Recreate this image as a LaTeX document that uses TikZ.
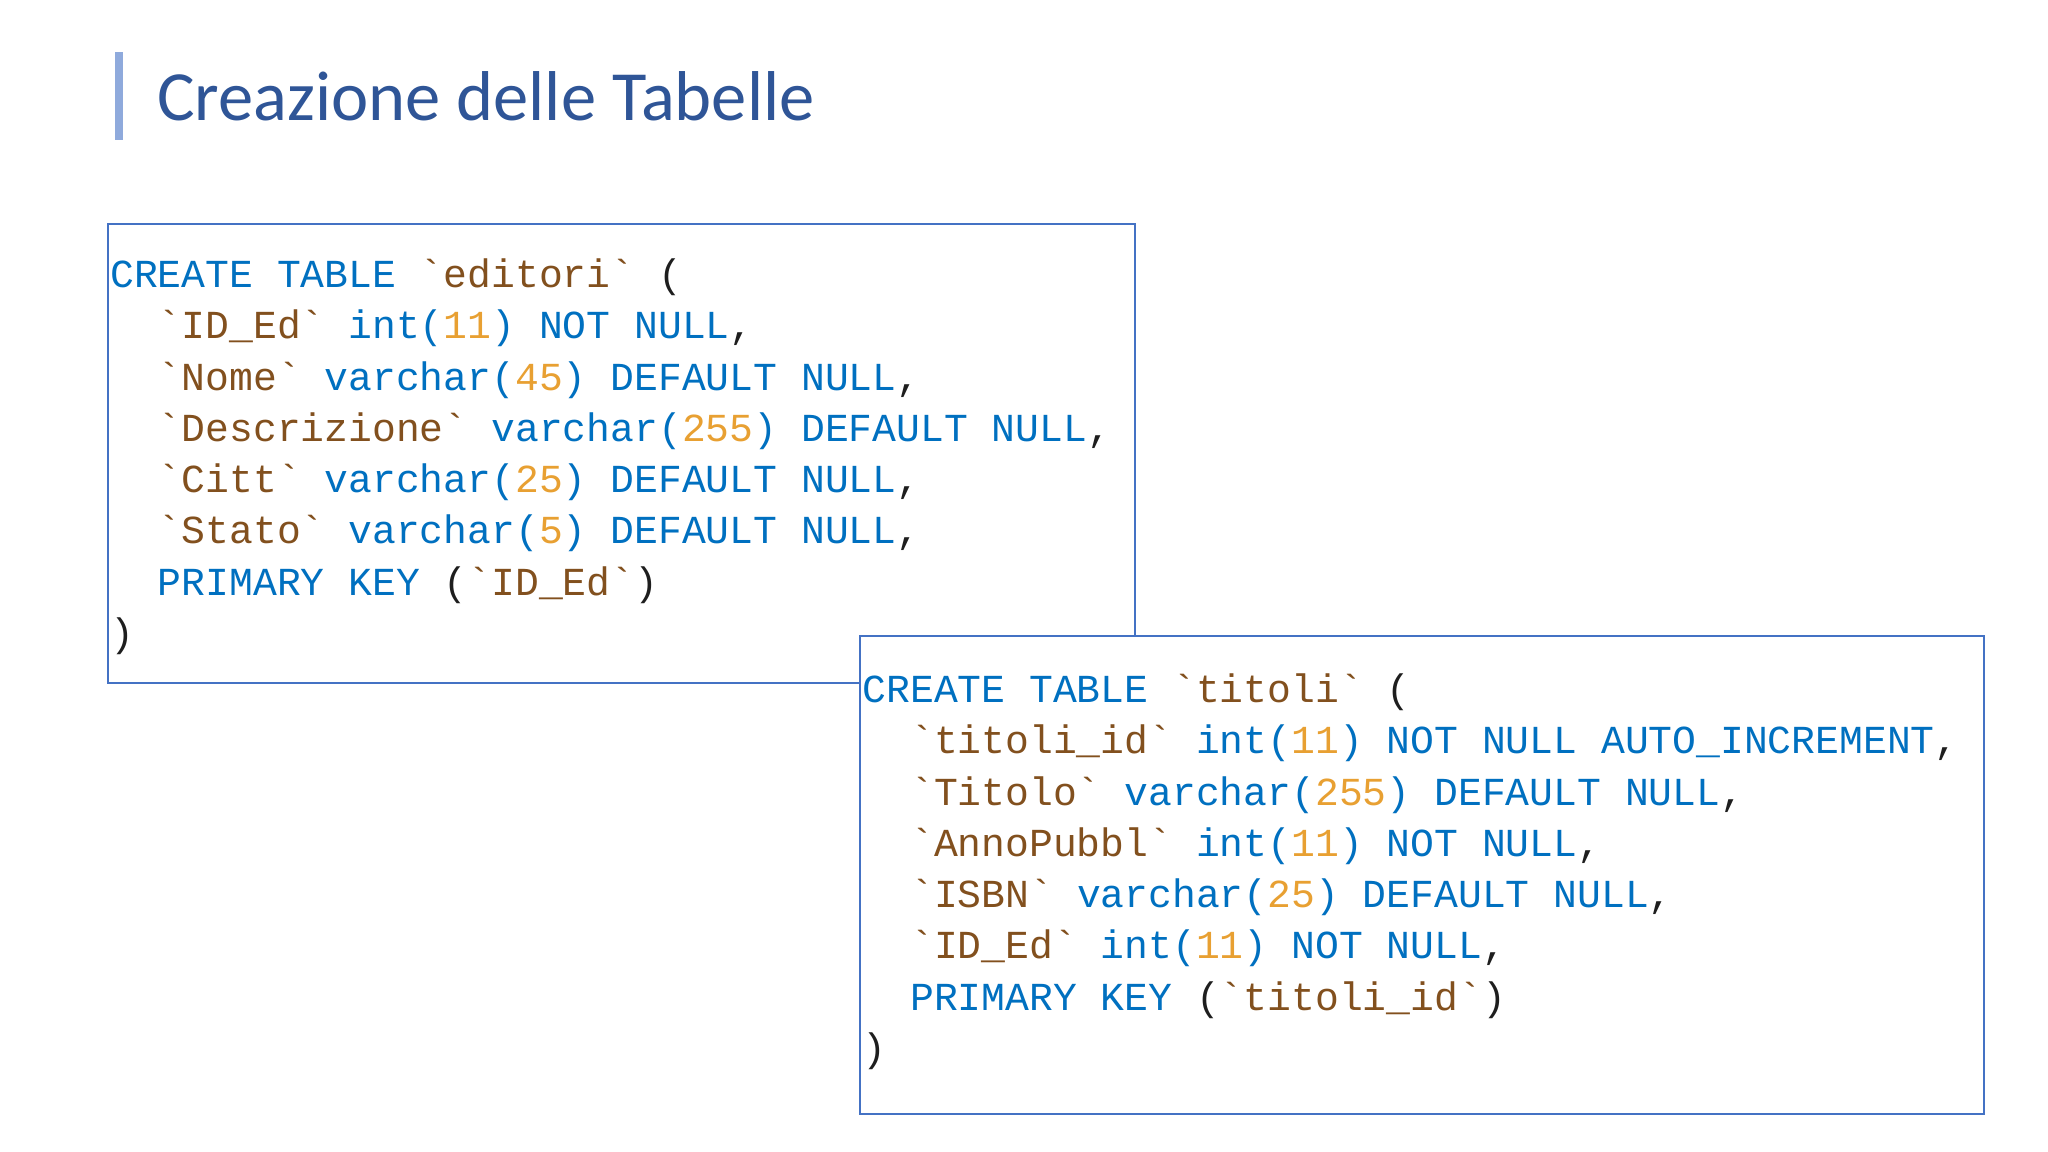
\documentclass[tikz,border=0pt]{standalone}
\usepackage{fontspec}
\setmainfont{Carlito}
\newfontfamily\code{Liberation Mono}
\definecolor{kw}{RGB}{0,112,192}
\definecolor{st}{RGB}{130,80,30}
\definecolor{nm}{RGB}{232,160,50}
\definecolor{dk}{RGB}{30,30,30}
\definecolor{ttl}{RGB}{47,85,151}
\definecolor{bar}{RGB}{143,170,220}
\definecolor{bx}{RGB}{68,114,196}
\newcommand{\Kw}[1]{\textcolor{kw}{#1}}
\newcommand{\St}[1]{\textcolor{st}{\char96#1\char96}}
\newcommand{\Nm}[1]{\textcolor{nm}{#1}}
\begin{document}
\begin{tikzpicture}[x=0.5pt,y=-0.5pt,
  codeline/.style={anchor=base west,inner sep=0pt,font=\code\fontsize{15.2}{18}\selectfont,text=dk},
  panel/.style={draw=bx,line width=0.7pt,fill=white}]
\useasboundingbox (0,0) rectangle (1568,882);
\fill[white] (0,0) rectangle (1568,882);
\fill[bar] (88,40) rectangle (94,107);
\node[anchor=base west,inner sep=0pt,font=\fontsize{27}{30}\selectfont,text=ttl] (title) at (120,92) {Creazione delle Tabelle};
\node[panel,minimum width=393pt,minimum height=175.5pt,anchor=north west,inner sep=0pt] (b1) at (82,171) {};
\foreach \y/\t [count=\i] in {
 220/{\Kw{CREATE TABLE} \St{editori} (},
 259/{\ \ \St{ID\_Ed} \Kw{int(}\Nm{11}\Kw{) NOT NULL},},
 299/{\ \ \St{Nome} \Kw{varchar(}\Nm{45}\Kw{) DEFAULT NULL},},
 338/{\ \ \St{Descrizione} \Kw{varchar(}\Nm{255}\Kw{) DEFAULT NULL},},
 377/{\ \ \St{Citt} \Kw{varchar(}\Nm{25}\Kw{) DEFAULT NULL},},
 416/{\ \ \St{Stato} \Kw{varchar(}\Nm{5}\Kw{) DEFAULT NULL},},
 456/{\ \ \Kw{PRIMARY KEY} (\St{ID\_Ed})},
 495/{)}}
 \node[codeline] (a\i) at (84,\y) {\t};
\node[panel,minimum width=430pt,minimum height=183pt,anchor=north west,inner sep=0pt] (b2) at (658,486) {};
\foreach \y/\t [count=\i] in {
 538/{\Kw{CREATE TABLE} \St{titoli} (},
 577/{\ \ \St{titoli\_id} \Kw{int(}\Nm{11}\Kw{) NOT NULL AUTO\_INCREMENT},},
 617/{\ \ \St{Titolo} \Kw{varchar(}\Nm{255}\Kw{) DEFAULT NULL},},
 656/{\ \ \St{AnnoPubbl} \Kw{int(}\Nm{11}\Kw{) NOT NULL},},
 695/{\ \ \St{ISBN} \Kw{varchar(}\Nm{25}\Kw{) DEFAULT NULL},},
 734/{\ \ \St{ID\_Ed} \Kw{int(}\Nm{11}\Kw{) NOT NULL},},
 774/{\ \ \Kw{PRIMARY KEY} (\St{titoli\_id})},
 813/{)}}
 \node[codeline] (c\i) at (660,\y) {\t};
\end{tikzpicture}
\end{document}
